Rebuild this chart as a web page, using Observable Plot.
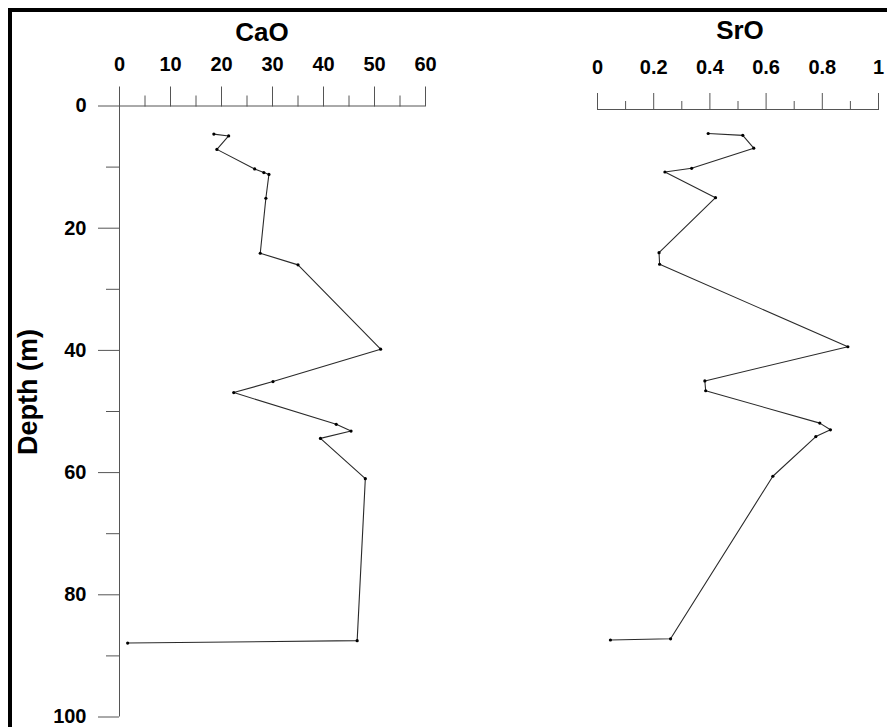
<!DOCTYPE html>
<html><head><meta charset="utf-8">
<script src="https://cdn.jsdelivr.net/npm/d3@7"></script>
<script src="https://cdn.jsdelivr.net/npm/@observablehq/plot@0.6"></script>
<style>
html,body{margin:0;padding:0;background:#fff;overflow:hidden;width:887px;height:727px;}
#wrap{position:relative;width:887px;height:727px;overflow:hidden;background:#fff;}
#frame{position:absolute;left:8px;top:8px;width:900px;height:740px;border:4px solid #000;box-sizing:border-box;pointer-events:none;}
.t{position:absolute;font-family:"Liberation Sans",Arial,sans-serif;font-weight:bold;color:#000;white-space:nowrap;text-align:center;}
</style></head><body>
<div id="wrap">
  <div id="cao" style="position:absolute;left:0;top:0"></div>
  <div id="sro" style="position:absolute;left:450px;top:0"></div>
  <div class="t" style="left:162px;top:19px;width:200px;font-size:26px;line-height:26px;">CaO</div>
  <div class="t" style="left:640px;top:17px;width:200px;font-size:26px;line-height:26px;">SrO</div>
  <div class="t" style="left:-72px;top:377px;width:200px;height:30px;font-size:27px;line-height:30px;transform:rotate(-90deg);">Depth (m)</div>
  <div id="frame"></div>
</div>
<script>
// Depth (m) of samples
const depthCaO = [4.6, 4.9, 7.1, 10.3, 10.9, 11.2, 15.1, 24.1, 26.0, 39.8, 45.1, 46.9, 52.1, 53.2, 54.4, 61.0, 87.5, 87.9];
const caoValues = [18.5, 21.4, 19.1, 26.5, 28.3, 29.3, 28.7, 27.6, 35.0, 51.2, 30.1, 22.4, 42.5, 45.4, 39.4, 48.2, 46.6, 1.6];
const depthSrO = [4.5, 4.8, 6.9, 10.2, 10.8, 15.0, 24.0, 25.9, 39.4, 45.0, 46.6, 51.9, 53.0, 54.1, 60.6, 87.2, 87.4];
const sroValues = [0.394, 0.517, 0.556, 0.335, 0.240, 0.420, 0.219, 0.221, 0.891, 0.382, 0.385, 0.791, 0.829, 0.777, 0.624, 0.260, 0.046];

// Tick labels
const depthTicks = [0, 20, 40, 60, 80, 100];
const depthMinor = [10, 30, 50, 70, 90];
const caoTicks = [0, 10, 20, 30, 40, 50, 60];
const caoMinor = [5, 15, 25, 35, 45, 55];
const sroTicks = [0, 0.2, 0.4, 0.6, 0.8, 1];
const sroMinor = [0.1, 0.3, 0.5, 0.7, 0.9];

const caoData = depthCaO.map((d, i) => ({depth: d, value: caoValues[i]}));
const sroData = depthSrO.map((d, i) => ({depth: d, value: sroValues[i]}));

const fam = "'Liberation Sans', Arial, sans-serif";
const font = {fontFamily: fam, fontSize: "20px", fontWeight: "bold", background: "transparent", overflow: "visible"};
const axisColor = "#555";
const lineColor = "#2a2a2a";
const fmt = d => String(d);

const p1 = Plot.plot({
  width: 450, height: 727,
  marginLeft: 119, marginRight: 25, marginTop: 105.5, marginBottom: 10.5,
  x: {domain: [0, 60]},
  y: {domain: [0, 100], reverse: true},
  style: font,
  marks: [
    Plot.ruleY([0], {stroke: axisColor}),
    Plot.ruleX([0], {stroke: axisColor}),
    Plot.axisX({anchor: "top", ticks: caoTicks, tickFormat: fmt, tickSize: 20, tickPadding: 15, label: null, stroke: axisColor, fill: "#000", fontSize: 20}),
    Plot.axisX({anchor: "top", ticks: caoMinor, tickSize: 11, tickFormat: () => "", label: null, stroke: axisColor}),
    Plot.axisY({anchor: "left", ticks: depthTicks, tickFormat: fmt, tickSize: 21, tickPadding: 12, label: null, stroke: axisColor, fill: "#000", fontSize: 20}),
    Plot.axisY({anchor: "left", ticks: depthMinor, tickSize: 13, tickFormat: () => "", label: null, stroke: axisColor}),
    Plot.line(caoData, {x: "value", y: "depth", stroke: lineColor, strokeWidth: 1.1}),
    Plot.dot(caoData, {x: "value", y: "depth", r: 1.6, fill: "#000"})
  ]
});
document.getElementById("cao").append(p1);

const p2 = Plot.plot({
  width: 437, height: 727,
  marginLeft: 147, marginRight: 9, marginTop: 105.5, marginBottom: 10.5,
  x: {domain: [0, 1]},
  y: {domain: [0, 100], reverse: true, axis: null},
  style: font,
  marks: [
    Plot.ruleY([0], {stroke: axisColor, dy: 3.5}),
    Plot.axisX({anchor: "top", ticks: sroTicks, tickFormat: fmt, tickSize: 17, tickPadding: 19, label: null, stroke: axisColor, fill: "#000", fontSize: 20, dy: 3.5}),
    Plot.axisX({anchor: "top", ticks: sroMinor, tickSize: 9, tickFormat: () => "", label: null, stroke: axisColor, dy: 3.5}),
    Plot.line(sroData, {x: "value", y: "depth", stroke: lineColor, strokeWidth: 1.1}),
    Plot.dot(sroData, {x: "value", y: "depth", r: 1.6, fill: "#000"})
  ]
});
document.getElementById("sro").append(p2);
</script>
</body></html>
